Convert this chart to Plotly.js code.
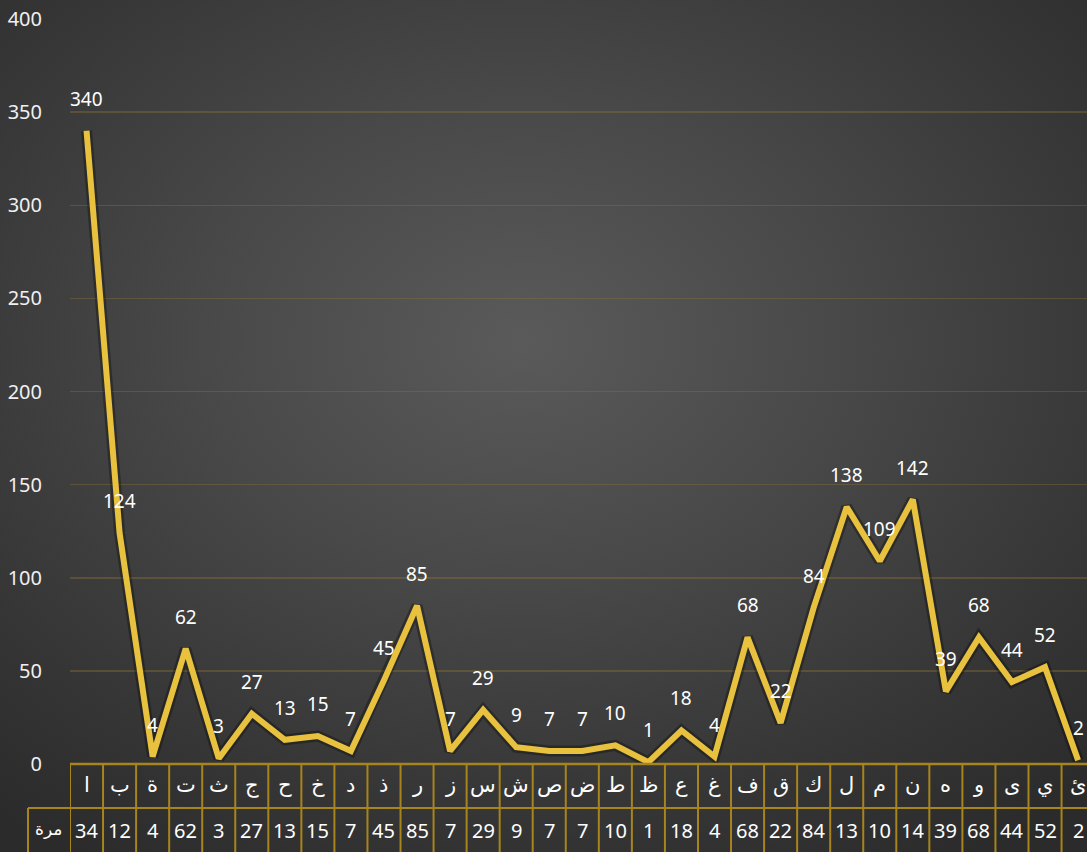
<!DOCTYPE html>
<html>
<head>
<meta charset="utf-8">
<script src="https://cdn.plot.ly/plotly-3.0.1.min.js"></script>
<style>
  html, body { margin: 0; padding: 0; width: 1087px; height: 852px; overflow: hidden; }
  body { background: radial-gradient(ellipse 75% 72% at 48% 40%, #5a5a5a 0%, #484848 40%, #353535 78%, #2b2b2b 100%); }
  #chart { width: 1087px; height: 852px; }
</style>
</head>
<body>
<div id="chart"></div>
<script>
const letters = ["ا","ب","ة","ت","ث","ج","ح","خ","د","ذ","ر","ز","س","ش","ص","ض","ط","ظ","ع","غ","ف","ق","ك","ل","م","ن","ه","و","ى","ي","ئ"];
const counts = [340,124,4,62,3,27,13,15,7,45,85,7,29,9,7,7,10,1,18,4,68,22,84,138,109,142,39,68,44,52,2];
const rowLabel = "مرة";
const yTicks = [0,50,100,150,200,250,300,350,400];

const gold = "#e8c13e";
const tableColor = "#a8841c";
const font = "'Noto Sans', 'Open Sans', sans-serif";
const arFont = "'Noto Sans', 'DejaVu Sans', sans-serif";

const plotLeft = 70, plotW = 1087 - 70, plotH = 852 - 19 - 88;
const px2paperX = p => (p - plotLeft) / plotW;
const px2paperY = p => -(p - 764) / plotH;

const traces = [
  { x: letters, y: counts, type: "scatter", mode: "lines",
    line: { color: "rgba(0,0,0,0.3)", width: 11 }, hoverinfo: "skip", showlegend: false },
  { x: letters, y: counts, type: "scatter", mode: "lines",
    line: { color: gold, width: 6 }, showlegend: false }
];

const annotations = [];
counts.forEach((v, i) => {
  annotations.push({ x: letters[i], y: v, xref: "x", yref: "y", text: String(v), showarrow: false,
    xanchor: "center", yanchor: "middle", yshift: 32, font: { family: font, size: 19, color: "#ffffff" } });
  annotations.push({ x: letters[i], y: px2paperY(784), xref: "x", yref: "paper", text: letters[i], showarrow: false,
    xanchor: "center", yanchor: "middle", font: { family: arFont, size: 21, color: "#ffffff" } });
  annotations.push({ x: letters[i], y: px2paperY(830), xref: "x", yref: "paper", text: String(v).slice(0, 2), showarrow: false,
    xanchor: "center", yanchor: "middle", font: { family: font, size: 20, color: "#ffffff" } });
});
annotations.push({ x: px2paperX(48.5), y: px2paperY(828), xref: "paper", yref: "paper", text: rowLabel, showarrow: false,
  xanchor: "center", yanchor: "middle", font: { family: arFont, size: 17, color: "#ffffff" } });

const shapes = [];
for (let i = 0; i <= letters.length; i++) {
  shapes.push({ type: "line", xref: "x", yref: "paper", x0: i - 0.5, x1: i - 0.5, y0: 0, y1: px2paperY(852),
    line: { color: tableColor, width: 2 } });
}
shapes.push({ type: "line", xref: "paper", yref: "paper", x0: px2paperX(28), x1: 1.02, y0: px2paperY(808), y1: px2paperY(808),
  line: { color: tableColor, width: 2 } });
shapes.push({ type: "line", xref: "paper", yref: "paper", x0: px2paperX(28), x1: px2paperX(28), y0: px2paperY(808), y1: px2paperY(852),
  line: { color: tableColor, width: 2 } });
shapes.push({ type: "line", xref: "paper", yref: "paper", x0: 0, x1: 1.02, y0: 0, y1: 0,
  line: { color: tableColor, width: 2.5 } });

const layout = {
  width: 1087, height: 852,
  margin: { l: plotLeft, r: 0, t: 19, b: 88 },
  paper_bgcolor: "rgba(0,0,0,0)",
  plot_bgcolor: "rgba(0,0,0,0)",
  showlegend: false,
  xaxis: { type: "category", range: [-0.5, 30.27], showticklabels: false, showgrid: false,
    zeroline: false, showline: false, ticks: "", fixedrange: true },
  yaxis: { range: [0, 400], tickvals: yTicks, ticktext: yTicks.map(String),
    showgrid: true, gridcolor: "rgba(140,115,55,0.4)", gridwidth: 1.5,
    zeroline: false, showline: false, ticks: "outside", ticklen: 0, ticklabelstandoff: 23,
    tickfont: { family: font, size: 20, color: "#f0f0f0" }, fixedrange: true },
  annotations: annotations,
  shapes: shapes
};

Plotly.newPlot("chart", traces, layout, { displayModeBar: false, staticPlot: true });
</script>
</body>
</html>
